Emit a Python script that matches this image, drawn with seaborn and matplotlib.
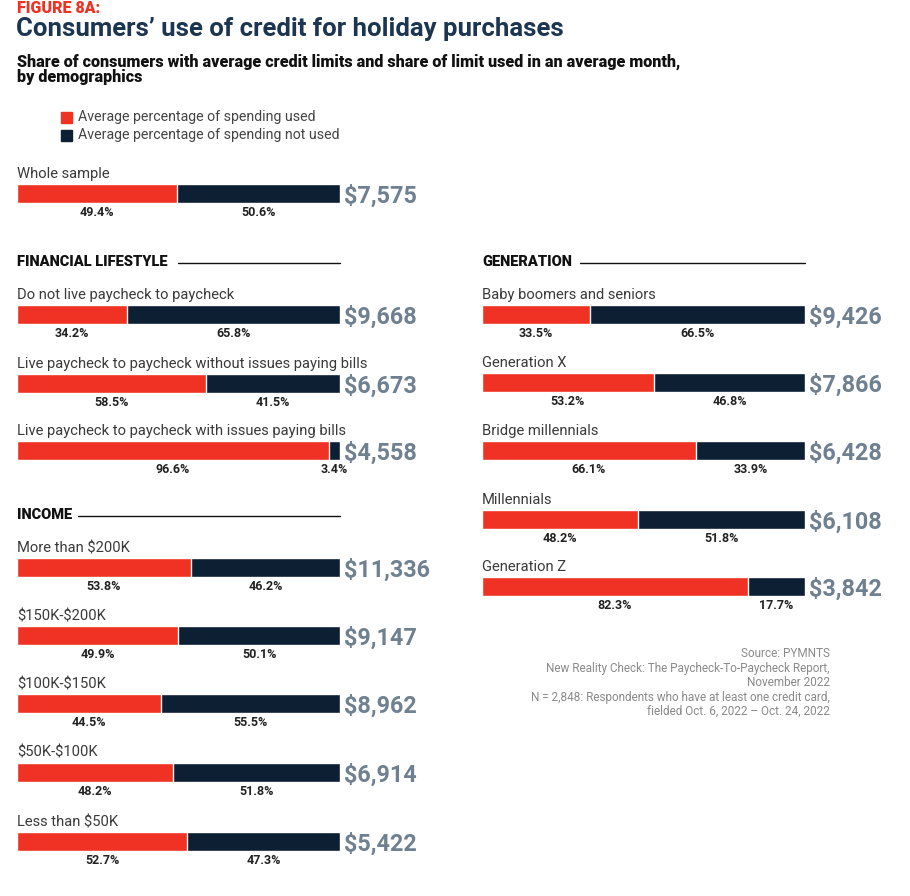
import pandas as pd
import matplotlib.pyplot as plt
import seaborn as sns

# Data
whole_label = ["Whole sample"]
whole_used = [49.4]
whole_not_used = [50.6]
whole_limit = [7575]

lifestyle_labels = ["Do not live paycheck to paycheck",
                    "Live paycheck to paycheck without issues paying bills",
                    "Live paycheck to paycheck with issues paying bills"]
lifestyle_used = [34.2, 58.5, 96.6]
lifestyle_not_used = [65.8, 41.5, 3.4]
lifestyle_limit = [9668, 6673, 4558]

income_labels = ["More than $200K", "$150K-$200K", "$100K-$150K", "$50K-$100K", "Less than $50K"]
income_used = [53.8, 49.9, 44.5, 48.2, 52.7]
income_not_used = [46.2, 50.1, 55.5, 51.8, 47.3]
income_limit = [11336, 9147, 8962, 6914, 5422]

gen_labels = ["Baby boomers and seniors", "Generation X", "Bridge millennials",
              "Millennials", "Generation Z"]
gen_used = [33.5, 53.2, 66.1, 48.2, 82.3]
gen_not_used = [66.5, 46.8, 33.9, 51.8, 17.7]
gen_limit = [9426, 7866, 6428, 6108, 3842]

legend_labels = ["Average percentage of spending used",
                 "Average percentage of spending not used"]
source_lines = ["Source: PYMNTS",
                "New Reality Check: The Paycheck-To-Paycheck Report,",
                "November 2022",
                "N = 2,848: Respondents who have at least one credit card,",
                "fielded Oct. 6, 2022 \u2013 Oct. 24, 2022"]

RED = "#f03224"
NAVY = "#0c1f33"
VALUE_GRAY = "#6f8090"
TEXT = "#3a3a3a"

sns.set_theme(style="white")
plt.rcParams['font.family'] = ['Roboto', 'DejaVu Sans']
plt.rcParams['text.parse_math'] = False

W, H = 910, 896
fig = plt.figure(figsize=(W / 100, H / 100), dpi=100)


def fx(x):
    return x / W


def fy(y):
    return 1 - y / H


def draw_bar(label, used, not_used, limit, x0, y_top, w=323, h=19):
    ax = fig.add_axes([fx(x0), fy(y_top + h), w / W, h / H])
    df = pd.DataFrame({"row": [label], "used": [used], "total": [used + not_used]})
    sns.barplot(data=df, x="total", y="row", color=NAVY, width=1, saturation=1, ax=ax)
    sns.barplot(data=df, x="used", y="row", color=RED, width=1, saturation=1, ax=ax)
    ax.set_xlim(0, 100)
    ax.set_ylim(0.5, -0.5)
    ax.axis("off")
    tr = ax.get_xaxis_transform()
    for xc, v in [(used / 2, used), (used + not_used / 2, not_used)]:
        ax.text(xc, -0.5, f"{v:.1f}%", transform=tr, ha="center", va="center",
                fontsize=9, fontweight="semibold", color="#222222", clip_on=False)
    fig.text(fx(x0), fy(y_top - 6), label, fontsize=10.6, color=TEXT,
             ha="left", va="baseline")
    fig.text(fx(x0 + w + 4), fy(y_top + h / 2), f"${limit:,}", fontsize=16.8,
             fontweight="bold", color=VALUE_GRAY, ha="left", va="center_baseline")


def section(title, x0, x_line, x_end, y):
    fig.text(fx(x0), fy(y + 5), title, fontsize=10.5, fontweight="black", color="#111111",
             ha="left", va="baseline")
    fig.add_artist(plt.Line2D([fx(x_line), fx(x_end)], [fy(y + 2), fy(y + 2)],
                              color="#111111", lw=1))


# Header
fig.text(fx(17), fy(12.7), "FIGURE 8A:", fontsize=11.5, fontweight="black", color=RED,
         ha="left", va="baseline")
fig.text(fx(16), fy(36), "Consumers\u2019 use of credit for holiday purchases", fontsize=18.5,
         fontweight="bold", color="#1c3550", ha="left", va="baseline")
fig.text(fx(17), fy(67), "Share of consumers with average credit limits and share of limit "
         "used in an average month,", fontsize=11.6, fontweight="black",
         color="#111111", ha="left", va="baseline")
fig.text(fx(17), fy(82), "by demographics", fontsize=11.6, fontweight="black",
         color="#111111", ha="left", va="baseline")

# Legend
for i, (lab, col) in enumerate(zip(legend_labels, [RED, NAVY])):
    y = 117.5 + 18 * i
    fig.add_artist(plt.Rectangle((fx(61), fy(y + 5.5)), 11 / W, 11 / H, color=col))
    fig.text(fx(78), fy(y + 4), lab, fontsize=10.2, color="#444444", ha="left", va="baseline")

# Whole sample
draw_bar(whole_label[0], whole_used[0], whole_not_used[0], whole_limit[0], 17, 184)

# Financial lifestyle
section("FINANCIAL LIFESTYLE", 17, 178, 340, 261)
for lab, u, n, lim, y in zip(lifestyle_labels, lifestyle_used, lifestyle_not_used,
                             lifestyle_limit, [305, 374, 441]):
    draw_bar(lab, u, n, lim, 17, y)

# Income
section("INCOME", 17, 78, 340, 514)
for lab, u, n, lim, y in zip(income_labels, income_used, income_not_used,
                             income_limit, [558, 626, 694, 763, 832]):
    draw_bar(lab, u, n, lim, 17, y)

# Generation
section("GENERATION", 482, 580, 805, 261)
for lab, u, n, lim, y in zip(gen_labels, gen_used, gen_not_used,
                             gen_limit, [305, 373, 441, 510, 577]):
    draw_bar(lab, u, n, lim, 482, y)

# Source
for i, (line, y) in enumerate(zip(source_lines, [653, 668, 682, 697, 711])):
    fig.text(fx(830), fy(y), line, fontsize=8.5, color="#8a8a8a", ha="right", va="center")

fig.savefig("out.png", dpi=100)
